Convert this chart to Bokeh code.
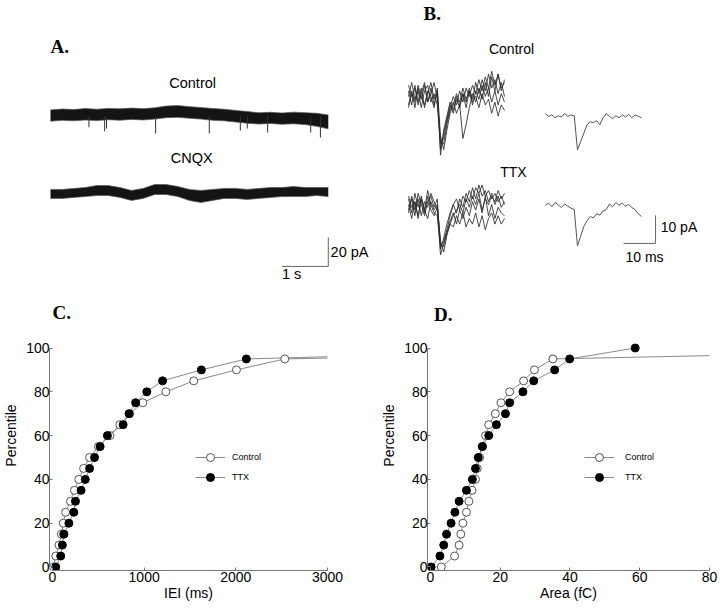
from bokeh.plotting import figure
from bokeh.models import Range1d, Label, Legend, LegendItem, FixedTicker
from bokeh.layouts import column, row
from bokeh.embed import file_html
from bokeh.resources import INLINE

SANS = "Liberation Sans"
SERIF = "Liberation Serif"

# ---------------- Panel A: continuous recordings (time in s, current in pA)
trace_t = [0.0, 0.25, 0.5, 0.75, 1.0, 1.25, 1.5, 1.75, 2.0, 2.25, 2.5, 2.75, 3.0,
           3.25, 3.5, 3.75, 4.0, 4.25, 4.5, 4.75, 5.0, 5.25, 5.5, 5.75, 6.0]
ctrl_upper = [4.5, 5.2, 4.8, 5.5, 5.0, 5.6, 5.3, 5.8, 5.4, 6.0, 7.2, 7.5, 6.8,
              6.2, 5.5, 5.0, 4.2, 3.4, 2.6, 2.9, 2.4, 3.0, 2.6, 2.2, 1.0]
ctrl_lower = [-3.2, -2.6, -3.0, -2.4, -2.8, -2.2, -2.6, -2.0, -2.4, -1.8, -0.8, -0.6, -1.2,
              -1.8, -2.6, -3.0, -3.8, -4.6, -5.2, -4.8, -5.4, -5.0, -5.6, -6.8, -8.5]
cnqx_upper = [2.1, 2.1, 2.8, 3.4, 4.8, 4.8, 3.4, 1.4, 2.8, 5.5, 5.5, 4.1, 2.1,
              1.4, 2.1, 2.8, 2.8, 2.1, 2.8, 3.4, 3.4, 4.1, 3.4, 3.4, 3.4]
cnqx_lower = [-4.1, -4.1, -3.4, -2.8, -2.1, -2.1, -3.4, -5.5, -4.1, -1.4, -1.4, -2.8, -5.5,
              -6.9, -5.5, -4.1, -4.1, -4.8, -4.1, -3.4, -2.8, -2.8, -2.8, -2.1, -2.8]
ctrl_event_t = [0.83, 1.17, 1.21, 2.27, 3.43, 4.10, 4.25, 4.69, 5.62, 5.83]
ctrl_event_pa = [-7.4, -10.3, -8.3, -11.7, -11.7, -9.7, -8.3, -11.0, -11.0, -14.5]

# ---------------- Panel B: sweeps (time in ms, current in pA)
sweep_ms = [0, 1, 2, 3, 4, 5, 6, 7, 8, 9, 10, 11, 12, 13, 14, 15,
            16, 17, 18, 19, 20, 21, 22, 23, 24, 25, 26, 27, 28, 29, 30]
ctrl_sweep1 = [2, -3, 4, -2, 3, -4, 1, 5, -1, 2, -19, -13, -8, -3, -6, -1, -4, 1, -2, 3, -1, 5, 1, 6, 2, 8, 3, 6, 1, 5, 0]
ctrl_sweep2 = [-3, 2, -4, 3, -1, 4, -2, 1, 5, -1, -16, -17, -10, -5, -2, -6, -3, -15, -10, -4, 1, -2, 3, -1, 5, 0, 7, 2, 8, 3, 5]
ctrl_sweep3 = [4, 0, 3, -3, 1, 5, -2, 3, -3, 2, -21, -12, -7, -2, -5, 0, -3, 1, -4, 2, -2, 0, -4, 1, -3, -1, -6, -2, -7, -3, -5]
ctrl_sweep4 = [0, 5, -1, 2, -4, 2, 4, -2, 1, -3, -17, -15, -9, -4, 0, -3, 2, -2, 3, 0, 4, 1, 6, 2, 7, 3, 9, 4, 8, 2, 6]
ctrl_sweep5 = [-4, 1, -2, 4, 0, -3, 2, 0, -4, 3, -14, -19, -12, -6, -3, 1, -2, 3, -1, 2, -3, 2, -1, 4, 0, 3, -2, 2, -3, 1, -2]
ctrl_average = [0, -1, -0.5, -1.5, -0.8, -1.2, 0, -1, -0.5, -0.8, -13, -10, -7, -4, -3, -3.2,
                -2.5, -4, -1.5, 0, -1, -1.8, -0.8, -1.5, -0.5, -1.2, -0.3, -1.5, -0.5, -1, -1.5]
ttx_sweep1 = [3, -2, 5, 0, 4, -1, 6, 1, -2, -3, -14, -12, -8, -3, 1, -2, 3, 0, 5, 2, 7, 3, 8, 4, 6, 2, 5, 1, 4, 0, 2]
ttx_sweep2 = [-2, 4, -1, 3, -3, 2, 0, 5, 2, -1, -17, -13, -9, -5, -2, -6, -1, -4, 0, -3, 2, -1, 3, -2, 4, -3, 1, -4, 0, -2, -3]
ttx_sweep3 = [1, -4, 2, -3, 3, -2, 4, -1, -3, 0, -12, -16, -10, -6, -7, -3, -6, -2, -7, -4, -6, -2, -7, -3, -8, -4, -2, -6, -3, -6, -4]
ttx_sweep4 = [-1, 3, -3, 5, 1, -3, 2, 4, 0, 3, -15, -11, -6, -2, 1, 3, -1, 4, 2, 6, 3, 7, 5, 8, 4, 6, 3, 5, 2, 4, 1]
ttx_sweep5 = [4, 0, 2, -4, 3, -1, -4, 2, -1, 1, -13, -14, -9, -6, -3, -1, 1, -2, 3, 0, 4, 1, 5, -1, 3, 1, 4, 2, 6, 3, 5]
ttx_average = [0, 0.8, -0.5, 1, 0.2, -0.8, 0.5, -0.3, -1, -1.5, -14.5, -11, -7.5, -5.5, -4, -4.5,
               -3, -3.5, -2, -1.5, 0.5, -0.5, 1, 0, 0.8, -0.3, 0.3, -0.8, -1.5, -3, -4]

# ---------------- Panel C: IEI cumulative distributions
pct_ctrl_c = [0, 5, 10, 15, 20, 25, 30, 35, 40, 45, 50, 55, 60, 65, 70, 75, 80, 85, 90, 95, 100]
iei_ctrl = [10, 36, 72, 97, 118, 143, 197, 240, 287, 340, 405, 502, 627, 735, 842, 986, 1237, 1541, 2007, 2534, 8400]
pct_ttx_c = [0, 5, 10, 15, 20, 25, 30, 35, 40, 45, 50, 55, 60, 65, 70, 75, 80, 85, 90, 95, 100]
iei_ttx = [36, 90, 108, 125, 179, 233, 251, 312, 358, 405, 459, 520, 599, 771, 835, 907, 1029, 1201, 1624, 2115, 6500]

# ---------------- Panel D: area cumulative distributions
pct_ctrl_d = [0, 5, 10, 15, 20, 25, 30, 35, 40, 45, 50, 55, 60, 65, 70, 75, 80, 85, 90, 95, 100]
area_ctrl = [3.1, 6.9, 8.2, 8.7, 9.3, 10.3, 11.0, 11.9, 12.9, 13.4, 14.1, 14.8, 15.8, 16.7, 18.6, 20.2, 22.7, 26.7, 29.8, 35.1, 184]
pct_ttx_d = [0, 5, 10, 15, 20, 25, 30, 35, 40, 45, 50, 55, 60, 65, 70, 75, 80, 85, 90, 95, 100]
area_ttx = [0.2, 2.7, 3.8, 4.6, 5.9, 7.0, 8.2, 10.3, 12.0, 12.9, 13.7, 14.9, 16.7, 18.9, 21.5, 22.7, 26.5, 29.6, 35.6, 39.9, 58.7]

pct_ticks = [0, 20, 40, 60, 80, 100]
iei_ticks = [0, 1000, 2000, 3000]
area_ticks = [0, 20, 40, 60, 80]

# layout constants (positions only)
A_CTRL_OFF, A_CNQX_OFF = 0.0, -52.4
B_CTRL_OFF, B_CTRL_AVG_OFF = 0.0, -6.1
B_TTX_OFF, B_TTX_AVG_OFF = -39.6, -38.9
B_AVG_SHIFT = 42.8


def offset(vals, off):
    return [v + off for v in vals]


def panel_fig(w, h, xr, yr):
    p = figure(width=w, height=h, x_range=Range1d(*xr), y_range=Range1d(*yr),
               x_axis_type=None, y_axis_type=None, toolbar_location=None,
               output_backend="svg", min_border=0, outline_line_color=None)
    p.grid.visible = False
    return p


def text(p, x, y, s, size="14px", align="center", font=SANS, style="normal"):
    p.add_layout(Label(x=x, y=y, text=s, text_font=font, text_font_size=size,
                       text_font_style=style, text_align=align,
                       text_baseline="middle", text_color="black"))


# ---------- Panel A
pA = panel_fig(372, 300, (-1.08, 6.955), (-126.9, 80))
for up, lo, off in ((ctrl_upper, ctrl_lower, A_CTRL_OFF), (cnqx_upper, cnqx_lower, A_CNQX_OFF)):
    pA.varea(x=trace_t, y1=offset(lo, off), y2=offset(up, off), fill_color="#141414")
    pA.line(trace_t, offset(up, off), line_color="#555555", line_width=1, line_alpha=0.7)
    pA.line(trace_t, offset(lo, off), line_color="#555555", line_width=1, line_alpha=0.7)
pA.segment(x0=ctrl_event_t, y0=[A_CTRL_OFF] * len(ctrl_event_t), x1=ctrl_event_t,
           y1=offset(ctrl_event_pa, A_CTRL_OFF), line_color="#333333", line_width=1)
# scale bar: 1 s x 20 pA
SB_T, SB_PA = 1.0, 20.0
sb_x, sb_y = 6.0, -103.4
pA.line([sb_x - SB_T, sb_x, sb_x], [sb_y, sb_y, sb_y + SB_PA], line_color="#666666", line_width=1)
text(pA, sb_x + 0.05, sb_y + SB_PA / 2, "20 pA", size="14.5px", align="left")
text(pA, sb_x - SB_T, sb_y - 5, "1 s", size="14.5px", align="left")
text(pA, 3.07, 23.4, "Control", size="14.5px")
text(pA, 3.05, -28.3, "CNQX", size="14.5px")
text(pA, 0.0, 48.1, "A.", size="19px", align="left", font=SERIF, style="bold")

# ---------- Panel B
pB = panel_fig(348, 300, (-11.25, 97.5), (-72.9, 34.3))
for s in (ctrl_sweep1, ctrl_sweep2, ctrl_sweep3, ctrl_sweep4, ctrl_sweep5):
    pB.line(sweep_ms, offset(s, B_CTRL_OFF), line_color="#2a2a2a", line_alpha=0.85, line_width=1)
for s in (ttx_sweep1, ttx_sweep2, ttx_sweep3, ttx_sweep4, ttx_sweep5):
    pB.line(sweep_ms, offset(s, B_TTX_OFF), line_color="#2a2a2a", line_alpha=0.85, line_width=1)
avg_ms = offset(sweep_ms, B_AVG_SHIFT)
pB.line(avg_ms, offset(ctrl_average, B_CTRL_AVG_OFF), line_color="#555555", line_width=1)
pB.line(avg_ms, offset(ttx_average, B_TTX_AVG_OFF), line_color="#555555", line_width=1)
SB_MS, SB_PA_B = 10.0, 10.0
sbb_x, sbb_y = 77.2, -52.5
pB.line([sbb_x - SB_MS, sbb_x, sbb_x], [sbb_y, sbb_y, sbb_y + SB_PA_B], line_color="#666666", line_width=1)
text(pB, sbb_x + 1.6, sbb_y + 5.7, "10 pA", align="left")
text(pB, sbb_x - SB_MS + 0.6, sbb_y - 5.0, "10 ms", align="left")
text(pB, 32.2, 17.1, "Control")
text(pB, 32.8, -27.1, "TTX")
text(pB, 4.7, 29.7, "B.", size="19px", align="left", font=SERIF, style="bold")


# ---------- Panels C and D
def cum_fig(xr, left, right, xticks, xbounds, xlabel):
    p = figure(width=360, height=310, x_range=Range1d(*xr), y_range=Range1d(-1.6, 121.69),
               toolbar_location=None, output_backend="svg",
               min_border_left=left, min_border_right=right, min_border_top=0,
               min_border_bottom=40, outline_line_color=None)
    p.grid.visible = False
    xa, ya = p.xaxis[0], p.yaxis[0]
    xa.ticker = FixedTicker(ticks=xticks)
    ya.ticker = FixedTicker(ticks=pct_ticks)
    xa.bounds = xbounds
    ya.bounds = (0, 100)
    xa.axis_label = xlabel
    ya.axis_label = "Percentile"
    for ax in (xa, ya):
        ax.axis_line_color = "#777777"
        ax.major_tick_line_color = "#777777"
        ax.major_tick_in = 3
        ax.major_tick_out = 0
        ax.minor_tick_line_color = None
        ax.major_label_text_font = SANS
        ax.major_label_text_font_size = "14px"
        ax.major_label_text_color = "black"
        ax.axis_label_text_font = SANS
        ax.axis_label_text_font_size = "14px"
        ax.axis_label_text_font_style = "normal"
        ax.axis_label_text_color = "black"
    xa.major_label_standoff = 1
    xa.axis_label_standoff = 0
    ya.major_label_standoff = 0
    ya.axis_label_standoff = 4
    return p


def cum_series(p, xc, yc, xt, yt, loc, standoff):
    lc = p.line(xc, yc, line_color="#8a8a8a", line_width=1)
    lt = p.line(xt, yt, line_color="#8a8a8a", line_width=1)
    sc = p.scatter(xc, yc, marker="circle", size=8, fill_color="white", line_color="#555555", line_width=1)
    st = p.scatter(xt, yt, marker="circle", size=8, fill_color="black", line_color="black", line_width=1)
    leg = Legend(items=[LegendItem(label="Control", renderers=[lc, sc]),
                        LegendItem(label="TTX", renderers=[lt, st])],
                 location=loc, border_line_color=None, background_fill_alpha=0,
                 padding=0, margin=0, spacing=0, glyph_width=30, glyph_height=20,
                 label_height=20, label_standoff=standoff, label_text_font=SANS,
                 label_text_font_size="9px", label_text_color="black")
    p.add_layout(leg)


pC = cum_fig((-32.3, 3000), 45, 33, iei_ticks, (0, 3000), "IEI (ms)")
cum_series(pC, iei_ctrl, pct_ctrl_c, iei_ttx, pct_ttx_c, (146, 83), 7)
text(pC, 0, 116.4, "C.", size="19px", align="left", font=SERIF, style="bold")

pD = cum_fig((-0.86, 80), 67, 11, area_ticks, (0, 80), "Area (fC)")
cum_series(pD, area_ctrl, pct_ctrl_d, area_ttx, pct_ttx_d, (157, 83), 11)
text(pD, 1.0, 115.3, "D.", size="19px", align="left", font=SERIF, style="bold")

layout = column(row(pA, pB), row(pC, pD))
open("out.html", "w").write(file_html(layout, INLINE))
